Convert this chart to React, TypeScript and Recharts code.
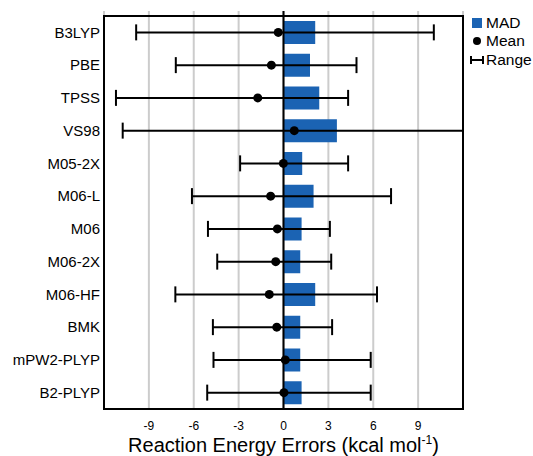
import { ComposedChart, Bar, Scatter, ErrorBar, XAxis, YAxis, CartesianGrid, ReferenceLine, ReferenceArea, Label } from 'recharts';

const methods = ['B3LYP', 'PBE', 'TPSS', 'VS98', 'M05-2X', 'M06-L', 'M06', 'M06-2X', 'M06-HF', 'BMK', 'mPW2-PLYP', 'B2-PLYP'];
const madValues = [2.12, 1.77, 2.39, 3.57, 1.25, 2.01, 1.21, 1.12, 2.12, 1.12, 1.12, 1.21];
const meanValues = [-0.35, -0.81, -1.72, 0.72, -0.01, -0.86, -0.41, -0.52, -0.95, -0.45, 0.12, 0.03];
const rangeMin = [-9.85, -7.2, -11.2, -10.75, -2.9, -6.12, -5.05, -4.43, -7.23, -4.72, -4.68, -5.1];
const rangeMax = [10.05, 4.88, 4.32, 12, 4.32, 7.19, 3.1, 3.19, 6.25, 3.25, 5.83, 5.83];
const xTicks = [-9, -6, -3, 0, 3, 6, 9];

const data = methods.map((name, i) => ({
  name,
  mad: madValues[i],
  mean: meanValues[i],
  range: [meanValues[i] - rangeMin[i], rangeMax[i] - meanValues[i]],
}));

const FONT = '"Liberation Sans", Arial, sans-serif';
const BLUE = '#1b63b3';

const renderDot = (props: any) => <circle cx={props.cx} cy={props.cy} r={4.5} fill="#000" />;

const renderXTitle = (props: any) => {
  const vb = props.viewBox || {};
  const cx = vb.x + vb.width / 2;
  return (
    <text x={cx} y={vb.y + 42} textAnchor="middle" fontSize={20} fill="#000" fontFamily={FONT}>
      Reaction Energy Errors (kcal mol
      <tspan fontSize={12} dy={-8}>-1</tspan>
      <tspan dy={8}>)</tspan>
    </text>
  );
};

export default function App() {
  return (
    <div style={{ position: 'absolute', left: 0, top: 0, width: 533, height: 456, background: '#fff', fontFamily: FONT }}>
      <ComposedChart
        width={533}
        height={456}
        data={data}
        layout="vertical"
        margin={{ top: 11, right: 70, bottom: 0, left: 0 }}
      >
        <CartesianGrid horizontal={false} stroke="#cccccc" strokeWidth={2} />
        <XAxis
          type="number"
          domain={[-12, 12]}
          ticks={xTicks}
          allowDataOverflow
          height={46}
          tickLine={false}
          axisLine={false}
          tickSize={8}
          tickMargin={3}
          tick={{ fontSize: 12, fill: '#000', fontFamily: FONT }}
        >
          <Label content={renderXTitle} />
        </XAxis>
        <YAxis
          type="category"
          dataKey="name"
          width={104}
          padding={{ top: 5, bottom: 1 }}
          tickLine={false}
          axisLine={false}
          tickSize={2}
          tickMargin={2}
          interval={0}
          tick={{ fontSize: 15, fill: '#000', fontFamily: FONT }}
        />
        <Bar dataKey="mad" fill={BLUE} barSize={23} isAnimationActive={false} />
        <ReferenceLine x={0} stroke="#000" strokeWidth={2} />
        <Scatter dataKey="mean" shape={renderDot} isAnimationActive={false}>
          <ErrorBar dataKey="range" direction="x" width={8} stroke="#000" strokeWidth={2} isAnimationActive={false} />
        </Scatter>
        <ReferenceArea x1={-12} x2={12} fill="none" fillOpacity={0} stroke="#000" strokeWidth={2} />
      </ComposedChart>
      <div style={{ position: 'absolute', left: 470, top: 14, fontSize: 15.5, lineHeight: '18.3px', color: '#000' }}>
        <div style={{ display: 'flex', alignItems: 'center' }}>
          <svg width={16} height={18}><rect x={2} y={4} width={10} height={10} fill={BLUE} /></svg>
          <span>MAD</span>
        </div>
        <div style={{ display: 'flex', alignItems: 'center' }}>
          <svg width={16} height={18}><circle cx={7} cy={9} r={4} fill="#000" /></svg>
          <span>Mean</span>
        </div>
        <div style={{ display: 'flex', alignItems: 'center' }}>
          <svg width={16} height={18}>
            <line x1={1} y1={9} x2={13} y2={9} stroke="#000" strokeWidth={2} />
            <line x1={1} y1={5} x2={1} y2={13} stroke="#000" strokeWidth={2} />
            <line x1={13} y1={5} x2={13} y2={13} stroke="#000" strokeWidth={2} />
          </svg>
          <span>Range</span>
        </div>
      </div>
    </div>
  );
}
